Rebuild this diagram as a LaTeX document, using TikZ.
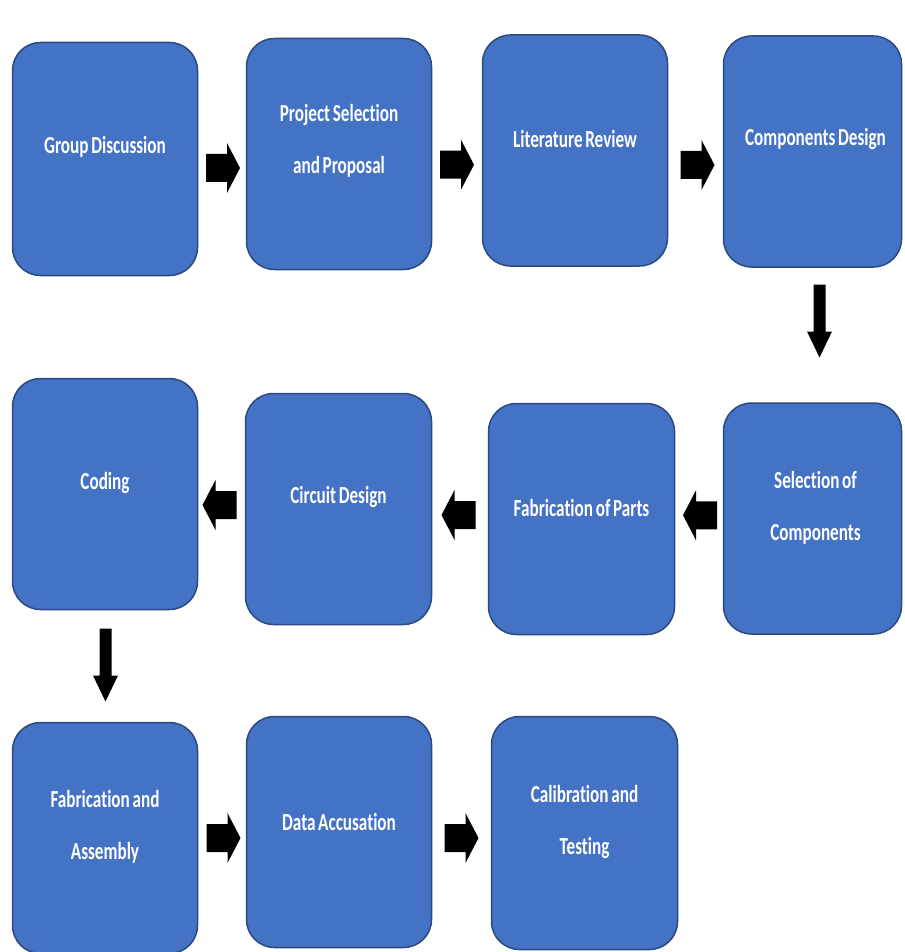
\documentclass[tikz,border=0pt]{standalone}
\usepackage{fontspec}
\usepackage{graphicx}
\usetikzlibrary{calc}
\newfontfamily\carl[Ligatures=NoCommon,WordSpace=0.7]{Carlito}
\newcommand\tl[1]{\scalebox{0.98}[1.4]{#1}}
\definecolor{boxfill}{HTML}{4472C4}
\definecolor{boxline}{HTML}{2A4A80}
\begin{document}
\begin{tikzpicture}[x=1pt,y=1pt,
  box/.style={draw=boxline, fill=boxfill, line width=1.5pt, rounded corners=28pt, inner sep=0pt, minimum height=231pt},
  txt/.style={text=white, font=\carl\bfseries\fontsize{17.5}{52}\selectfont, align=center, inner sep=0pt},
  rarr/.pic={\fill[black] (-17,-14)--(4,-14)--(4,-25)--(17,0)--(4,25)--(4,14)--(-17,14)--cycle;},
  darr/.pic={\fill[black] (-6,36.5)--(6,36.5)--(6,-10.5)--(12.5,-10.5)--(0,-36.5)--(-12.5,-10.5)--(-6,-10.5)--cycle;}]
\useasboundingbox (0,0) rectangle (904,-952);
% row 1
\node[box, minimum width=185pt, minimum height=233pt] (gd) at (105,-159) {};
\node[box, minimum width=185pt] (ps) at (339,-154) {};
\node[box, minimum width=185pt] (lr) at (575,-150.5) {};
\node[box, minimum width=178pt] (cd) at (812.5,-151.5) {};
% row 2
\node[box, minimum width=185pt] (co) at (105,-494) {};
\node[box, minimum width=186pt] (cr) at (338.5,-509) {};
\node[box, minimum width=186pt] (fp) at (581.5,-519) {};
\node[box, minimum width=178pt] (sc) at (812.5,-518.5) {};
% row 3
\node[box, minimum width=185pt] (fa) at (105,-838) {};
\node[box, minimum width=185pt] (da) at (339,-832) {};
\node[box, minimum width=186pt, minimum height=233pt] (ct) at (584.5,-833) {};
% texts
\node[txt] (gdt) at ($(gd.center)+(0,12)$) {\tl{Group Discussion}};
\node[txt] (pst) at ($(ps.center)+(0,13)$) {\tl{Project Selection}\\\tl{and Proposal}};
\node[txt] (lrt) at ($(lr.center)+(0,12)$) {\tl{Literature Review}};
\node[txt] (cdt) at ($(cd.center)+(3,13)$) {\tl{Components Design}};
\node[txt] (cot) at ($(co.center)+(0,11)$) {\tl{Coding}};
\node[txt] (crt) at ($(cr.center)+(0,12)$) {\tl{Circuit Design}};
\node[txt] (fpt) at ($(fp.center)+(0,11)$) {\tl{Fabrication of Parts}};
\node[txt] (sct) at ($(sc.center)+(3,11)$) {\tl{Selection of}\\\tl{Components}};
\node[txt] (fat) at ($(fa.center)+(0,11)$) {\tl{Fabrication and}\\\tl{Assembly}};
\node[txt] (dat) at ($(da.center)+(0,10)$) {\tl{Data Accusation}};
\node[txt] (ctt) at ($(ct.center)+(0,11)$) {\tl{Calibration and}\\\tl{Testing}};
% arrows
\pic at ($(gd.east)!.5!(ps.west)+(1,-11.5)$) {rarr};
\pic at ($(ps.east)!.5!(lr.west)+(0,-12.5)$) {rarr};
\pic at ($(lr.east)!.5!(cd.west)+(2,-14)$) {rarr};
\pic at ($(cd.south)!.5!(sc.north)+(7,14)$) {darr};
\pic[rotate=180] at ($(sc.west)!.5!(fp.east)+(1,3.5)$) {rarr};
\pic[rotate=180] at ($(fp.west)!.5!(cr.east)+(-1.5,-1)$) {rarr};
\pic[rotate=180] at ($(cr.west)!.5!(co.east)+(-2,-3.5)$) {rarr};
\pic at ($(co.south)!.5!(fa.north)+(0.5,1)$) {darr};
\pic at ($(fa.east)!.5!(da.west)+(1.5,-3)$) {rarr};
\pic at ($(da.east)!.5!(ct.west)+(0,-5.5)$) {rarr};
\end{tikzpicture}
\end{document}
